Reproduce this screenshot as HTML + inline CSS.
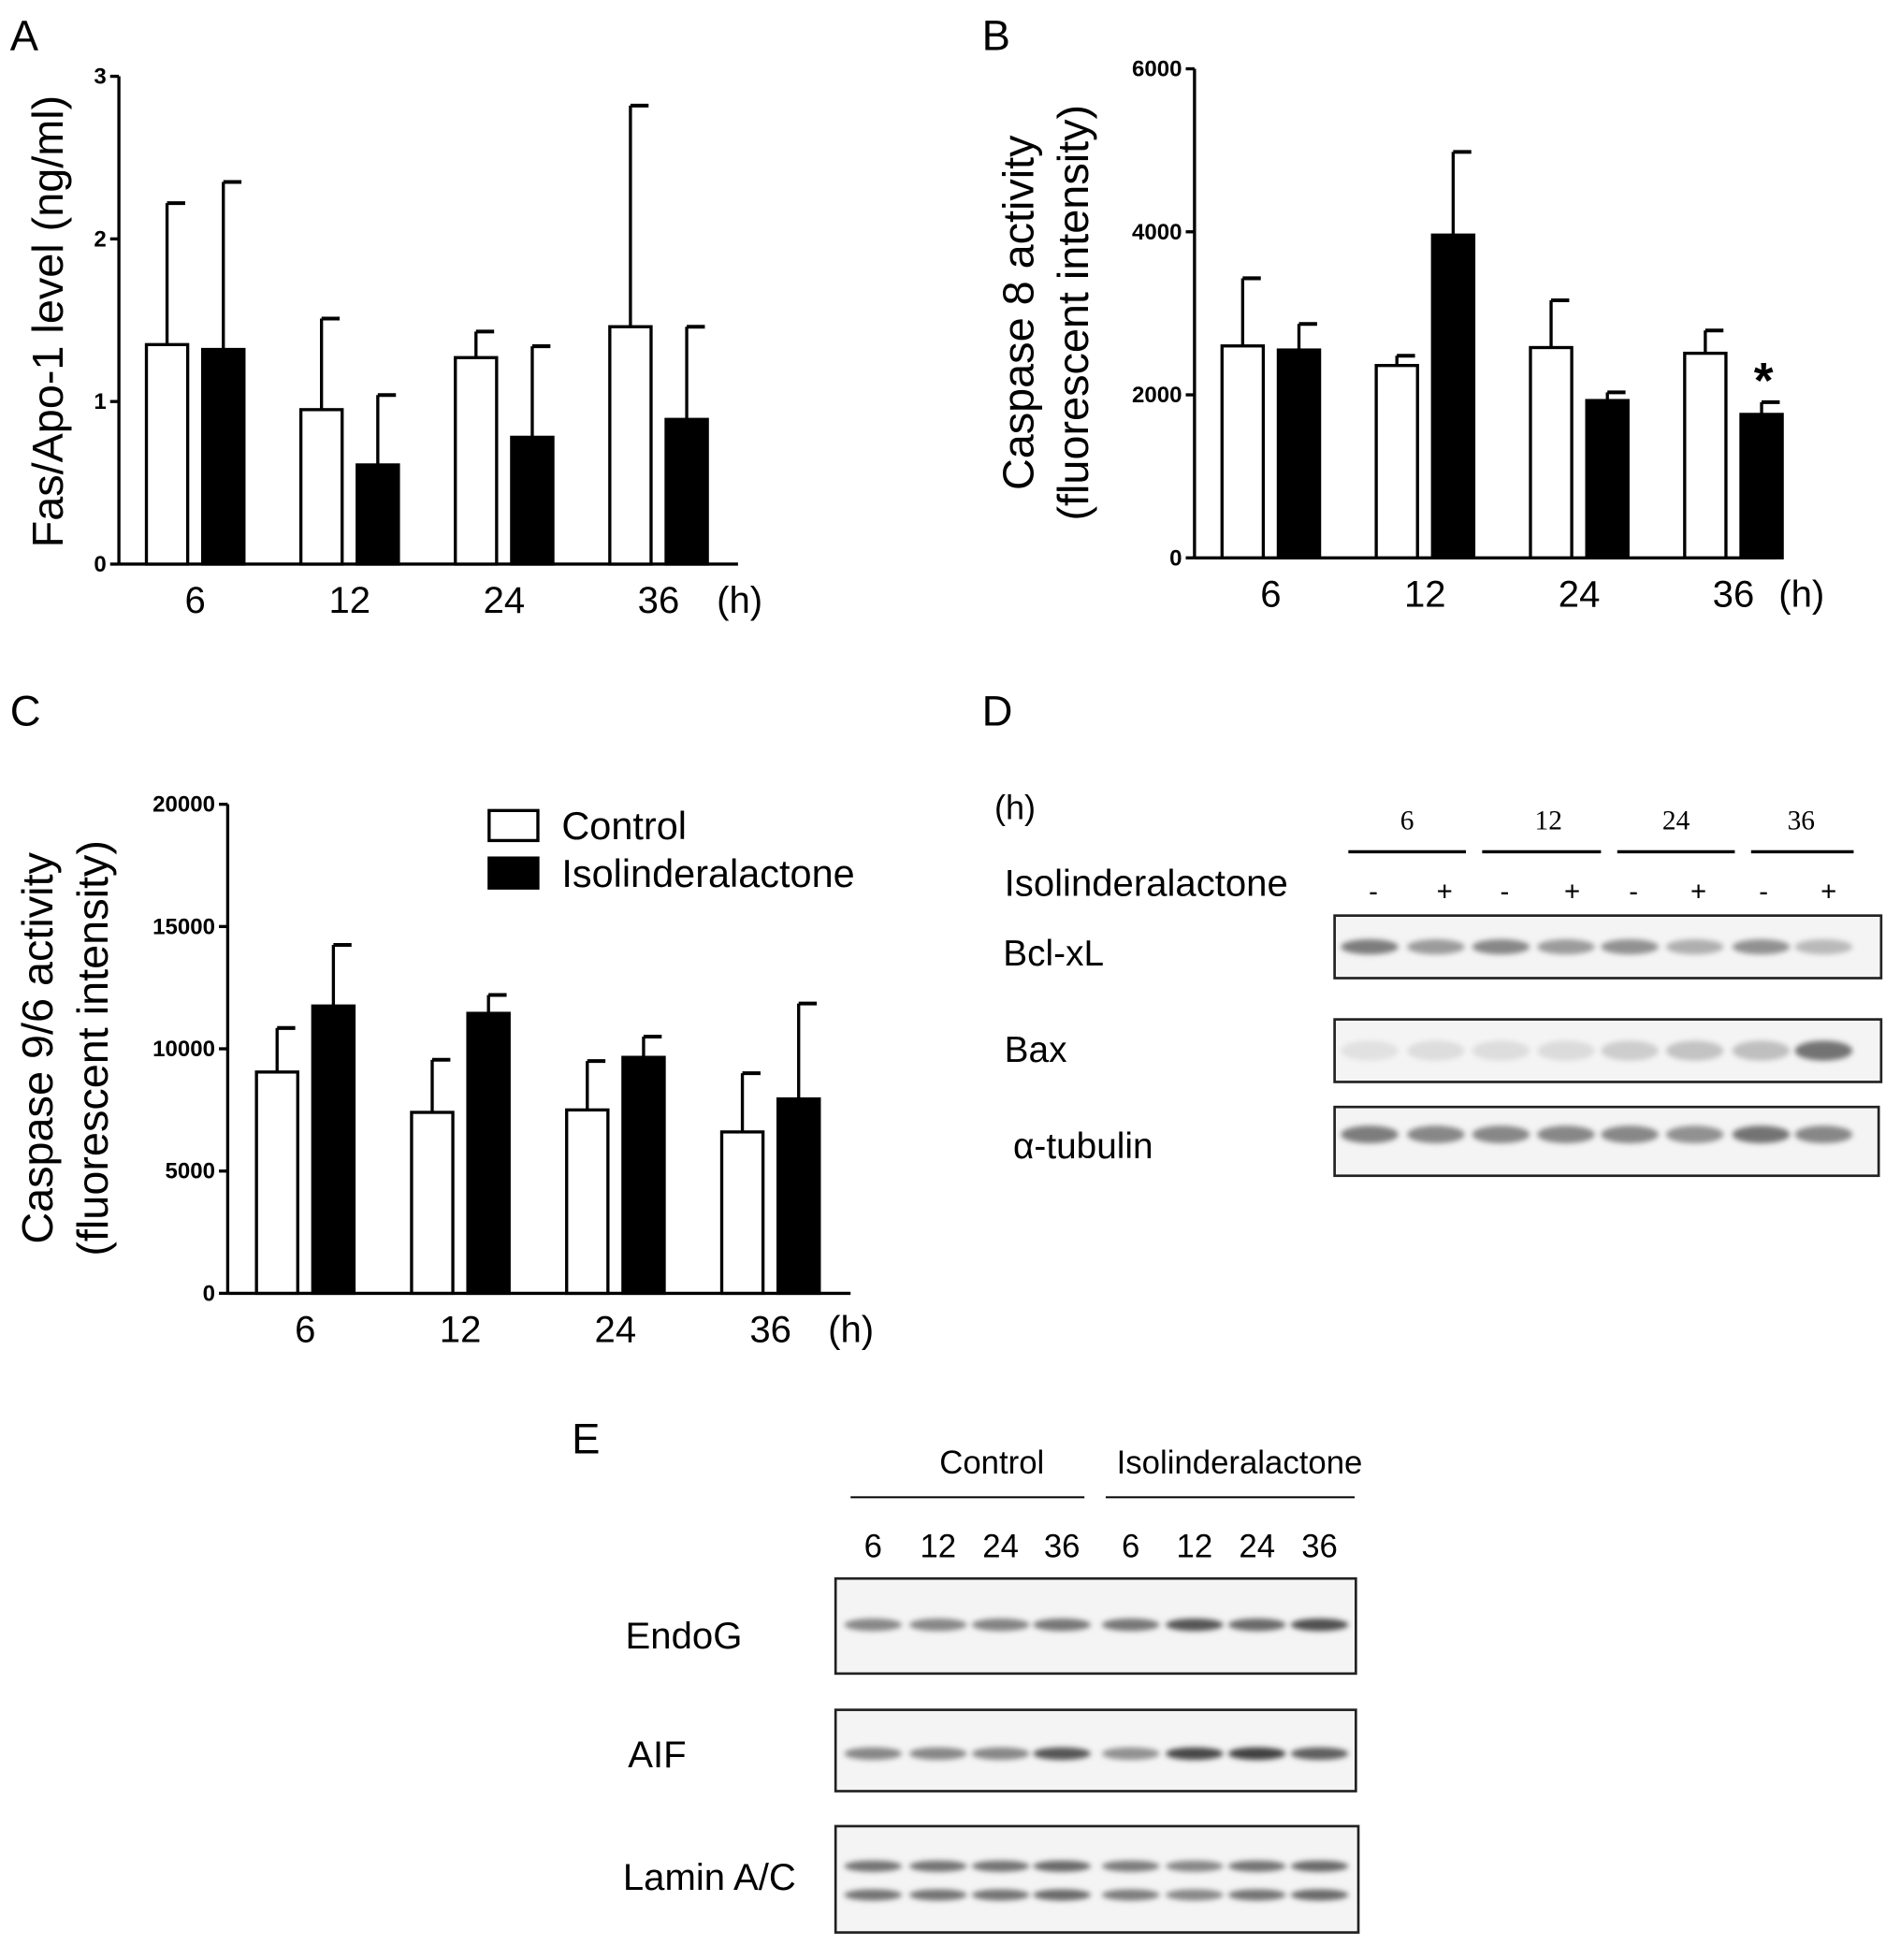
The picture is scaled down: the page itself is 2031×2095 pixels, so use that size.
<!DOCTYPE html>
<html><head><meta charset="utf-8"><style>
html,body{margin:0;padding:0;background:#fff}
svg{display:block}
text{font-family:"Liberation Sans",sans-serif;fill:#000}
</style></head><body>
<svg id="fig" width="2031" height="2095" viewBox="0 0 1519 1567" xmlns="http://www.w3.org/2000/svg">
<defs><filter id="bl" x="-20%" y="-100%" width="140%" height="300%"><feGaussianBlur stdDeviation="2.2"/></filter></defs>
<g font-size="34">
<text x="8" y="40">A</text>
<text x="785" y="40">B</text>
<text x="8" y="580">C</text>
<text x="785" y="580">D</text>
<text x="457" y="1162">E</text>
</g>
<g id="charts"></g>
<g id="blots"></g>
</svg>
<script>
const NS="http://www.w3.org/2000/svg";
const fig=document.getElementById('charts');
function el(tag,attrs,parent,txt){const e=document.createElementNS(NS,tag);for(const k in attrs)e.setAttribute(k,attrs[k]);if(txt!==undefined)e.textContent=txt;(parent||fig).appendChild(e);return e;}

const categories=["6","12","24","36"];
const aCtrl=[1.35,0.95,1.27,1.46], aCtrlErr=[2.22,1.51,1.43,2.82];
const aIso=[1.32,0.61,0.78,0.89], aIsoErr=[2.35,1.04,1.34,1.46];
const aTicks=[0,1,2,3];
const bCtrl=[2600,2360,2580,2510], bCtrlErr=[3430,2480,3160,2790];
const bIso=[2550,3960,1930,1760], bIsoErr=[2870,4980,2030,1910];
const bTicks=[0,2000,4000,6000];
const cCtrl=[9050,7400,7500,6600], cCtrlErr=[10850,9550,9500,9000];
const cIso=[11750,11450,9650,7950], cIsoErr=[14250,12200,10500,11850];
const cTicks=[0,5000,10000,15000,20000];

function chart(o){
  const g=el('g',{});
  
  
  const y=v=>o.y0-(v/o.max)*(o.y0-o.yTop);
  const ya=el('line',{x1:o.x0,y1:o.y0,x2:o.x0,y2:o.yTop,stroke:'#000','stroke-width':2.5},g);
  
  const xa=el('line',{x1:o.x0,y1:o.y0,x2:o.x1,y2:o.y0,stroke:'#000','stroke-width':2.5},g);
  
  o.ticks.forEach(t=>{
    el('line',{x1:o.x0-7,x2:o.x0,y1:y(t),y2:y(t),stroke:'#000','stroke-width':2.5},g);
    const tl=el('text',{x:o.x0-10,y:y(t)+6,'font-size':18,'font-weight':'bold','text-anchor':'end'},g,String(t));
    
  });
  categories.forEach((c,i)=>{
    const gx=o.gx0+i*o.gstep;
    [[o.ctrl,o.ctrlErr,'#fff',gx],[o.iso,o.isoErr,'#000',gx+o.bw+12]].forEach(([v,e,f,bx],k)=>{
      const top=y(v[i]), et=y(e[i]), cx=bx+o.bw/2;
      const eb=el('line',{x1:cx,x2:cx,y1:top,y2:et,stroke:'#000','stroke-width':2.5},g);
      
      el('line',{x1:cx,x2:cx+o.bw/2-2,y1:et,y2:et,stroke:'#000','stroke-width':3},g);
      const r=el('rect',{x:bx,y:top,width:o.bw,height:o.y0-top,fill:f,stroke:'#000','stroke-width':2.5},g);
      
      
    });
    const xl=el('text',{x:gx+o.bw+6,y:o.y0+39,'font-size':30,'text-anchor':'middle'},g,c);
    
  });
  const h=el('text',{x:o.hx,y:o.y0+39,'font-size':30},g,'(h)');
  
  o.title.forEach((t,j)=>{
    const tt=el('text',{x:0,y:0,'font-size':35,'text-anchor':'middle',transform:`translate(${o.tx+j*44},${o.ty}) rotate(-90)`},g,t);
    
  });
  return g;
}
chart({name:'chart-a',x0:95,x1:590,y0:451,yTop:61,max:3,ticks:aTicks,ctrl:aCtrl,ctrlErr:aCtrlErr,iso:aIso,isoErr:aIsoErr,gx0:117,gstep:123.5,bw:33,hx:573,title:['Fas/Apo-1 level (ng/ml)'],tx:50,ty:257});
const gb=chart({name:'chart-b',x0:955,x1:1420,y0:446,yTop:55,max:6000,ticks:bTicks,ctrl:bCtrl,ctrlErr:bCtrlErr,iso:bIso,isoErr:bIsoErr,gx0:977,gstep:123.3,bw:33,hx:1422,title:['Caspase 8 activity','(fluorescent intensity)'],tx:826,ty:250});
const ast=el('text',{x:1410,y:318,'font-size':40,'font-weight':'bold','text-anchor':'middle'},gb,'*');

const gc=chart({name:'chart-c',x0:182,x1:680,y0:1034,yTop:643,max:20000,ticks:cTicks,ctrl:cCtrl,ctrlErr:cCtrlErr,iso:cIso,isoErr:cIsoErr,gx0:205,gstep:124,bw:33,hx:662,title:['Caspase 9/6 activity','(fluorescent intensity)'],tx:42,ty:838});
[['Control','#fff',648],['Isolinderalactone','#000',686]].forEach(([t,f,yy])=>{
  const lg=el('g',{},gc);
  
  el('rect',{x:391,y:yy,width:39,height:24,fill:f,stroke:'#000','stroke-width':2.5},lg);
  el('text',{x:449,y:yy+23,'font-size':31},lg,t);
});

const B=document.getElementById('blots');
function blot(name,x,y,w,h,lanes,bandY,ints,bw,bh){
  const g=el('g',{},B);
  
  el('rect',{x,y,width:w,height:h,fill:'#f4f4f4',stroke:'#222','stroke-width':2},g);
  const bands=el('g',{filter:'url(#bl)'},g);
  lanes.forEach((lx,i)=>{
    bandY.forEach(by=>{
      const v=Math.round(255-ints[i]*200);
      el('ellipse',{cx:lx,cy:y+by,rx:bw/2,ry:bh/2,fill:`rgb(${v},${v},${v})`},bands);
    });
  });
}
const dLanes=[1095,1148,1200,1252,1303,1355,1408,1458];
blot('bcl-xl-blot',1067,732,437,50,dLanes,[25],[0.65,0.5,0.6,0.5,0.55,0.4,0.55,0.35],46,12);
blot('bax-blot',1067,815,437,50,dLanes,[25],[0.15,0.17,0.17,0.18,0.25,0.3,0.32,0.7],46,16);
blot('tubulin-blot',1067,885,435,55,dLanes,[22],[0.65,0.6,0.6,0.6,0.6,0.55,0.7,0.6],46,14);
const eLanes=[698,750,800,849,904,955,1005,1055];
blot('endog-blot',668,1262,416,76,eLanes,[37],[0.6,0.6,0.62,0.68,0.68,0.85,0.75,0.88],46,10);
blot('aif-blot',668,1367,416,65,eLanes,[35],[0.6,0.6,0.6,0.85,0.55,0.92,0.95,0.8],46,10);
blot('lamin-blot',668,1460,418,85,eLanes,[32,55],[0.7,0.7,0.7,0.75,0.65,0.6,0.7,0.75],46,9);

function txt(s,x,y,size,name,extra){const t=el('text',Object.assign({x,y,'font-size':size},extra||{}),B,s);return t;}
txt('(h)',795,655,27,'d-hours-label');
[['6',1125],['12',1238],['24',1340],['36',1440]].forEach(([s,x])=>txt(s,x,663,22,'d-lane-time',{'text-anchor':'middle','style':'font-family:"Liberation Serif",serif'}));
[[1078,1172],[1185,1280],[1293,1387],[1400,1482]].forEach(([a,b])=>{const l=el('line',{x1:a,x2:b,y1:681,y2:681,stroke:'#000','stroke-width':2.5},B);});
txt('Isolinderalactone',803,716,30,'d-treatment-label');
['-','+','-','+','-','+','-','+'].forEach((s,i)=>txt(s,[1098,1155,1203,1257,1306,1358,1410,1462][i],720,22,'treatment-sign',{'text-anchor':'middle'}));
txt('Bcl-xL',802,772,29,'bcl-xl-label');
txt('Bax',803,849,29,'bax-label');
txt('α-tubulin',810,926,29,'tubulin-label');
txt('Control',793,1178,26,'e-control-label',{'text-anchor':'middle'});
txt('Isolinderalactone',991,1178,26,'e-iso-label',{'text-anchor':'middle'});
[[680,867],[884,1083]].forEach(([a,b])=>{const l=el('line',{x1:a,x2:b,y1:1197,y2:1197,stroke:'#000','stroke-width':1.5},B);});
['6','12','24','36','6','12','24','36'].forEach((s,i)=>txt(s,eLanes[i],1245,26,'e-lane-time',{'text-anchor':'middle'}));
txt('EndoG',500,1318,30,'endog-label');
txt('AIF',502,1413,30,'aif-label');
txt('Lamin A/C',498,1511,30,'lamin-label');
</script>
</body></html>
